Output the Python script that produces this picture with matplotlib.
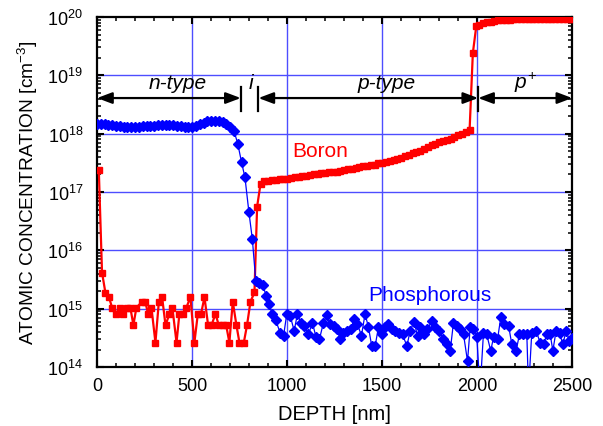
import numpy as np
import matplotlib
matplotlib.use('Agg')
import matplotlib.pyplot as plt

plt.rcParams['font.family'] = ['Liberation Sans', 'DejaVu Sans']
plt.rcParams['mathtext.fontset'] = 'custom'
plt.rcParams['mathtext.rm'] = 'Liberation Sans'
plt.rcParams['mathtext.it'] = 'Liberation Sans:italic'

# phosphorous profile: depth [nm] and log10(concentration)
p_depth = [0, 20, 40, 60, 80, 100, 120, 140, 160, 180, 200, 220, 240, 260, 280,
           300, 320, 340, 360, 380, 400, 420, 440, 460, 480, 500, 520, 540, 560,
           580, 600, 620, 640, 660, 680, 700, 720,
           740, 760, 778, 799, 817, 835, 852, 872, 891, 905, 921, 940,
           963, 981, 998, 1016, 1037, 1054, 1072, 1089, 1112, 1133, 1152, 1170,
           1191, 1209, 1226, 1244, 1261, 1279, 1296, 1314, 1335, 1352, 1370, 1391,
           1410, 1428, 1445, 1463, 1480, 1498, 1515, 1533, 1551, 1568, 1589, 1607,
           1630, 1647, 1668, 1686, 1700, 1721, 1738, 1761, 1779, 1800, 1822, 1840,
           1858, 1875, 1893, 1910, 1928, 1949, 1963, 1980, 1998, 2015, 2033, 2050,
           2071, 2086, 2107, 2124, 2142, 2165, 2182, 2205, 2222, 2243, 2261, 2270,
           2287, 2310, 2331, 2349, 2366, 2384, 2398, 2415, 2433, 2450, 2468, 2485, 2500]
p_log = [18.16, 18.17, 18.16, 18.15, 18.14, 18.13, 18.13, 18.12, 18.12, 18.12, 18.12,
         18.12, 18.13, 18.13, 18.13, 18.13, 18.14, 18.14, 18.14, 18.14, 18.14, 18.13,
         18.13, 18.12, 18.11, 18.11, 18.13, 18.16, 18.19, 18.21, 18.22, 18.22, 18.21,
         18.20, 18.17, 18.12, 18.05,
         17.83, 17.51, 17.25, 16.65, 16.19, 15.47, 15.44, 15.40, 15.21, 15.08, 14.91, 14.80,
         14.59, 14.53, 14.91, 14.88, 14.62, 14.91, 14.76, 14.71, 14.56, 14.76, 14.51, 14.48,
         14.76, 14.89, 14.73, 14.71, 14.66, 14.48, 14.59, 14.62, 14.65, 14.82, 14.73, 14.54,
         14.91, 14.68, 14.36, 14.36, 14.68, 14.56, 14.68, 14.73, 14.65, 14.62, 14.59, 14.56,
         14.36, 14.62, 14.78, 14.53, 14.68, 14.56, 14.65, 14.79, 14.68, 14.62, 14.48, 14.39,
         14.28, 14.76, 14.71, 14.65, 14.56, 14.10, 14.68, 14.65, 14.51, 13.60, 14.59, 14.56,
         14.28, 14.51, 14.48, 14.85, 14.73, 14.71, 14.39, 14.28, 14.56, 14.56, 14.56, 13.60,
         14.59, 14.62, 14.42, 14.39, 14.56, 14.56, 14.28, 14.62, 14.59, 14.39, 14.62, 14.45, 14.50]

# boron profile: depth [nm] and log10(concentration)
b_depth = [9, 26, 44, 62, 79, 100, 118, 135, 158, 175, 191, 207, 237, 254, 268, 286,
           307, 325, 342, 360, 381, 396, 418, 433, 451, 470, 491, 512, 530, 547, 565,
           584, 602, 623, 640, 661, 679, 696, 714, 733, 749, 772, 789, 807, 828, 842,
           860, 880, 900, 920, 940, 960, 980, 1000, 1020, 1040, 1060, 1080, 1100, 1120,
           1140, 1160, 1180, 1200, 1220, 1240, 1260, 1280, 1300, 1320, 1340, 1360, 1380,
           1400, 1420, 1440, 1460, 1480, 1500, 1520, 1540, 1560, 1580, 1600, 1620, 1640,
           1660, 1680, 1700, 1720, 1740, 1760, 1780, 1800, 1820, 1840, 1860, 1880, 1900,
           1920, 1940, 1960, 1977, 1995, 2010, 2030, 2050, 2070, 2090, 2110, 2130, 2150,
           2170, 2190, 2210, 2230, 2250, 2270, 2290, 2310, 2330, 2350, 2370, 2390, 2410,
           2430, 2450, 2470, 2490, 2500]
b_log = [17.38, 15.62, 15.27, 15.20, 15.02, 14.91, 15.02, 14.91, 15.02, 15.02, 14.72,
         15.02, 15.12, 15.12, 14.91, 15.02, 14.42, 15.12, 15.20, 14.72, 14.91, 15.02,
         14.42, 14.91, 14.91, 15.02, 15.20, 14.42, 14.91, 14.91, 15.20, 14.72, 14.72,
         14.91, 14.72, 14.72, 14.72, 14.42, 15.12, 14.72, 14.42, 14.42, 14.72, 15.12,
         15.28, 16.75,
         17.14, 17.18, 17.19, 17.20, 17.21, 17.22, 17.22, 17.23, 17.24, 17.25, 17.26,
         17.27, 17.28, 17.29, 17.30, 17.31, 17.32, 17.33, 17.34, 17.34, 17.35, 17.36,
         17.37, 17.39, 17.40, 17.41, 17.43, 17.44, 17.45, 17.46, 17.47, 17.49, 17.50,
         17.51, 17.53, 17.55, 17.57, 17.59, 17.61, 17.63, 17.66, 17.68, 17.71, 17.74,
         17.77, 17.80, 17.82, 17.85, 17.87, 17.89, 17.91, 17.94, 17.97, 18.00, 18.03,
         18.07, 19.38, 19.84, 19.87, 19.90, 19.91, 19.92, 19.93, 19.94, 19.94, 19.95,
         19.95, 19.96, 19.96, 19.96, 19.97, 19.97, 19.97, 19.97, 19.97, 19.97, 19.97,
         19.97, 19.97, 19.97, 19.97, 19.97, 19.97, 19.97]

# region labels and their limits [nm]
regions = ['n-type', 'i', 'p-type', '$p^{+}$']
region_x = [425, 809, 1525, 2252]
bounds = [0, 756, 849, 2005, 2500]

x_ticks = [0, 500, 1000, 1500, 2000, 2500]
y_decades = [14, 15, 16, 17, 18, 19, 20]

fig = plt.figure(figsize=(6.03, 4.27), dpi=100)
ax = fig.add_axes([0.161, 0.138, 0.788, 0.82])

grid_c = (0.3, 0.3, 1.0)
for gx in x_ticks[1:-1]:
    ax.axvline(gx, color=grid_c, lw=1, zorder=1)
for gy in y_decades[1:-1]:
    ax.axhline(10.0 ** gy, color=grid_c, lw=1, zorder=1)

ax.plot(b_depth, 10 ** np.array(b_log), color='#ff0000', lw=1.6, marker='s',
        ms=4.8, mec='#ff0000', zorder=3)
ax.plot(p_depth, 10 ** np.array(p_log), color='#0000ff', lw=0.9, marker='D',
        ms=5.2, mec='#0000ff', zorder=4)

ax.set_yscale('log')
ax.set_xlim(0, 2500)
ax.set_ylim(1e14, 1e20)
ax.set_xticks(x_ticks)
ax.set_xticks(np.arange(0, 2501, 100), minor=True)
ax.set_yticks([10.0 ** d for d in y_decades])
ax.set_yticklabels(['$10^{%d}$' % d for d in y_decades])
minor_y = [m * 10.0 ** d for d in y_decades[:-1] for m in range(2, 10)]
ax.set_yticks(minor_y, minor=True)
ax.yaxis.set_minor_formatter(matplotlib.ticker.NullFormatter())

for s in ax.spines.values():
    s.set_linewidth(1.6)
ax.tick_params(which='both', direction='in', top=True, right=True, labelsize=13)
ax.tick_params(which='major', length=5, width=1.5)
ax.tick_params(which='minor', length=3, width=1.1)
ax.tick_params(axis='y', which='major', pad=10)
ax.tick_params(axis='x', which='major', pad=7)

ax.set_xlabel('DEPTH [nm]', fontsize=14.5)
ax.set_ylabel('ATOMIC CONCENTRATION [cm$^{-3}$]', fontsize=13.8)
ax.yaxis.set_label_coords(-0.12, 0.5)
ax.xaxis.set_label_coords(0.5, -0.106)

# arrows for the regions
ya = 10 ** 18.61
sty = '<|-|>,head_length=0.45,head_width=0.17'
for x0, x1 in [(bounds[0], bounds[1]), (bounds[2], bounds[3]), (bounds[3], bounds[4])]:
    ax.annotate('', xy=(x1, ya), xytext=(x0, ya), annotation_clip=False,
                arrowprops=dict(arrowstyle=sty, color='k', lw=1.6,
                                shrinkA=0, shrinkB=0, mutation_scale=20), zorder=5)
for bx in bounds[1:4]:
    ax.plot([bx, bx], [10 ** 18.39, 10 ** 18.80], color='k', lw=1.6, zorder=5)

for lab, lx in zip(regions, region_x):
    ax.text(lx, 10 ** 18.88, lab, style='italic', fontsize=15, ha='center',
            va='center', zorder=6)

ax.text(1174, 10 ** 17.71, 'Boron', color='#ff0000', fontsize=15, ha='center', va='center')
ax.text(1753, 10 ** 15.25, 'Phosphorous', color='#0000ff', fontsize=15, ha='center', va='center')

fig.savefig('out.png', dpi=100)
